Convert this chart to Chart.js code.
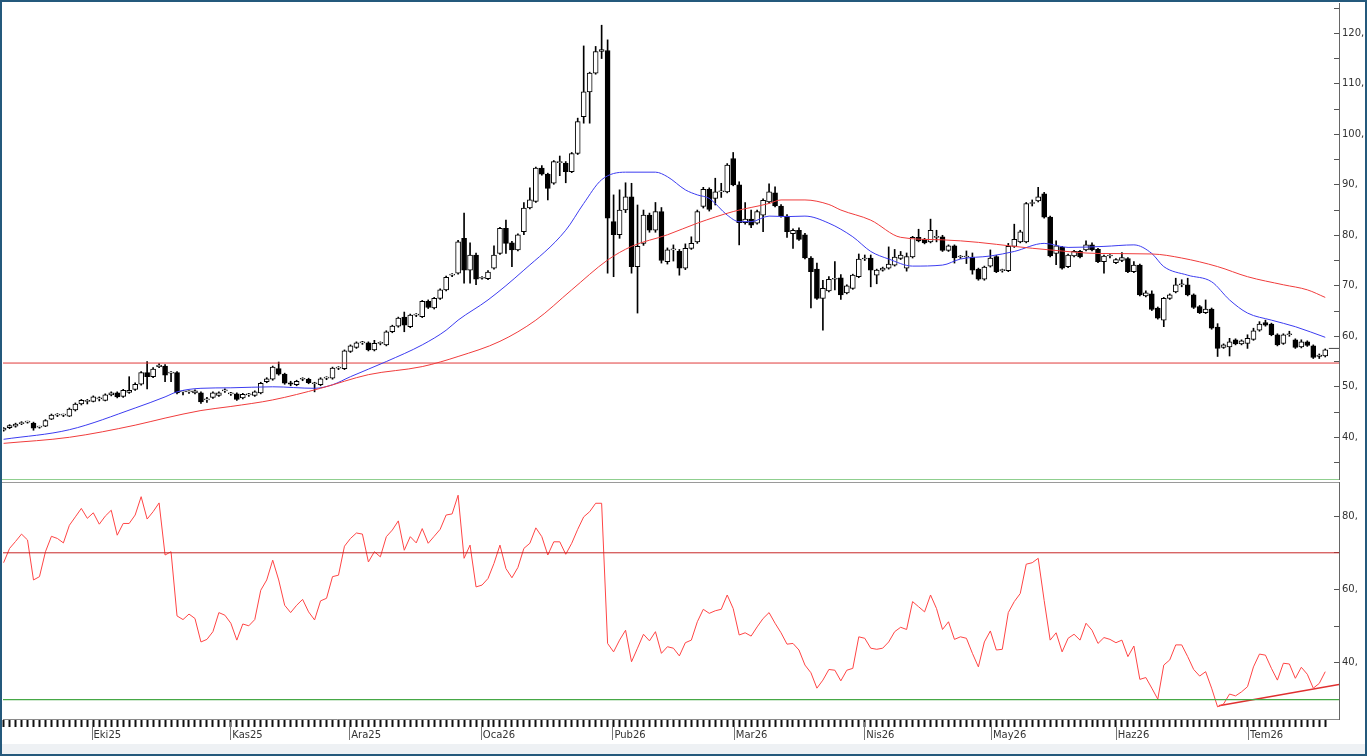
<!DOCTYPE html>
<html>
<head>
<meta charset="utf-8">
<script src="https://cdn.jsdelivr.net/npm/chart.js@4.4.1/dist/chart.umd.min.js"></script>
<style>
  html, body { margin: 0; padding: 0; background: #fff; }
  #frame { position: relative; width: 1367px; height: 756px; overflow: hidden; background: #fff; }
  #priceBox { position: absolute; left: 0; top: 0; width: 1367px; height: 481px; }
  #rsiBox { position: absolute; left: 0; top: 480px; width: 1367px; height: 276px; }
  .sep { position: absolute; left: 2px; width: 1337px; }
  #footer { position: absolute; left: 0; top: 744px; width: 1367px; height: 12px; background: #eef1f4; }
  #border { position: absolute; left: 0; top: 0; width: 1363px; height: 752px; border: 2px solid #24597c; pointer-events: none; }
</style>
</head>
<body>
<div id="frame">
  <div id="footer"></div>
  <div id="priceBox"><canvas id="priceChart"></canvas></div>
  <div id="rsiBox"><canvas id="rsiChart"></canvas></div>
  <div class="sep" style="top:479px;height:1px;background:#8fcf8f;"></div>
  <div class="sep" style="top:482px;height:1px;background:#9a9a9a;"></div>
  <div id="border"></div>
</div>
<script>
"use strict";

// ------------------------------------
// Daily candles
// ------------------------------------

const opens = [
  41.4, 41.9, 42.2, 42.7, 43.0, 42.8, 42.0, 42.2, 43.6, 44.4,
  44.4, 44.2, 45.4, 46.6, 47.1, 47.1, 47.6, 47.3, 48.4, 48.8,
  48.1, 48.9, 49.5, 50.5, 52.8, 52.0, 54.0, 54.1, 52.7, 52.8,
  49.0, 49.0, 48.8, 48.8, 47.4, 47.9, 48.3, 49.2, 48.6, 48.6,
  47.8, 48.4, 48.3, 48.8, 51.0, 51.5, 53.6, 52.5, 50.8, 50.4,
  51.5, 51.5, 50.6, 50.4, 51.7, 51.7, 53.7, 53.6, 57.0, 57.8,
  58.7, 58.7, 57.3, 58.6, 58.3, 60.9, 62.0, 63.8, 61.9, 64.2,
  63.9, 66.9, 65.6, 67.5, 69.2, 72.1, 72.5, 79.4, 73.1, 76.1,
  71.5, 71.4, 73.5, 76.4, 81.4, 78.5, 77.1, 80.7, 85.4, 86.7,
  93.3, 92.1, 90.3, 94.4, 94.3, 92.6, 96.2, 103.5, 108.4, 112.1,
  116.4, 116.6, 82.7, 80.1, 85.0, 87.6, 73.8, 78.4, 84.0, 81.0,
  84.7, 74.8, 77.1, 76.8, 73.5, 77.4, 78.7, 85.7, 89.1, 87.3,
  88.6, 88.6, 95.2, 90.0, 82.5, 83.2, 82.4, 84.0, 86.6, 88.4,
  85.8, 83.8, 80.3, 81.0, 80.1, 75.5, 73.3, 67.5, 69.0, 71.3,
  71.6, 68.6, 69.5, 71.8, 75.3, 75.5, 72.1, 73.1, 73.5, 74.1,
  75.4, 73.5, 75.7, 79.6, 79.2, 78.7, 79.6, 79.7, 77.0, 77.9,
  75.7, 75.7, 75.7, 73.3, 71.3, 73.9, 75.8, 73.0, 73.0, 77.8,
  78.7, 78.7, 86.3, 86.8, 88.2, 83.6, 76.4, 77.6, 73.8, 75.9,
  76.8, 77.1, 78.1, 77.2, 74.8, 75.9, 74.6, 75.0, 75.4, 72.8,
  74.1, 68.0, 68.4, 65.6, 63.2, 67.5, 68.8, 70.2, 70.2, 68.2,
  65.9, 64.7, 65.4, 61.8, 57.8, 57.9, 59.3, 58.5, 58.6, 59.4,
  61.2, 62.7, 62.4, 60.3, 58.6, 60.3, 59.3, 57.9, 58.9, 58.1,
  56.0, 56.1
];

const highs = [
  41.9, 42.5, 42.8, 43.1, 43.2, 43.0, 42.2, 43.5, 44.6, 44.7,
  44.6, 45.8, 46.8, 47.5, 47.5, 48.2, 48.0, 48.6, 49.0, 49.0,
  49.5, 52.0, 50.8, 53.0, 55.0, 53.8, 54.6, 54.4, 53.0, 53.0,
  49.3, 49.2, 49.4, 49.0, 47.9, 49.0, 49.0, 49.6, 48.9, 48.8,
  48.7, 48.7, 49.2, 50.9, 51.8, 54.1, 54.9, 52.7, 51.1, 51.3,
  51.8, 51.7, 50.9, 51.8, 52.0, 53.9, 54.0, 57.3, 58.3, 58.9,
  59.0, 58.9, 59.2, 58.9, 61.1, 62.2, 63.8, 64.8, 64.4, 64.5,
  67.1, 67.2, 67.7, 69.4, 71.9, 72.4, 79.0, 84.4, 78.5, 76.5,
  71.8, 73.0, 77.9, 81.6, 83.0, 78.8, 80.3, 86.5, 89.4, 93.5,
  93.8, 92.3, 94.8, 95.7, 94.6, 96.4, 103.2, 117.5, 112.3, 117.4,
  121.6, 118.7, 88.0, 89.0, 90.4, 90.3, 86.0, 85.0, 84.4, 86.5,
  85.5, 77.5, 78.1, 77.2, 78.3, 79.7, 85.0, 89.5, 89.4, 91.3,
  90.3, 94.2, 96.4, 90.6, 86.5, 85.0, 85.0, 87.2, 90.2, 89.6,
  86.1, 84.1, 81.3, 81.5, 80.4, 75.8, 74.5, 71.1, 71.8, 74.8,
  72.2, 70.2, 72.3, 76.3, 76.1, 76.1, 73.3, 73.7, 77.7, 77.2,
  76.8, 76.5, 79.8, 81.2, 79.4, 83.2, 81.0, 80.0, 78.1, 78.1,
  76.0, 76.9, 76.5, 73.5, 73.9, 77.1, 76.0, 73.3, 78.4, 82.2,
  81.0, 86.5, 87.0, 89.5, 88.5, 83.8, 78.9, 77.8, 76.3, 77.0,
  77.0, 78.9, 78.5, 77.4, 76.1, 76.2, 75.4, 76.6, 75.6, 74.8,
  74.3, 69.0, 69.0, 65.8, 67.7, 68.4, 71.5, 71.2, 71.5, 68.4,
  66.1, 67.2, 65.6, 62.5, 58.5, 59.6, 59.5, 59.3, 60.3, 61.6,
  62.9, 63.2, 62.6, 60.5, 60.5, 61.0, 59.5, 59.3, 59.1, 58.3,
  56.5, 57.5
];

const lows = [
  41.2, 41.7, 42.0, 42.5, 42.8, 41.4, 41.8, 42.1, 43.5, 44.1,
  44.1, 44.1, 45.2, 46.4, 46.6, 47.0, 47.2, 47.2, 48.2, 47.8,
  47.9, 48.7, 49.3, 50.3, 49.6, 51.8, 53.8, 51.0, 51.0, 48.6,
  48.4, 48.7, 48.6, 46.7, 46.9, 47.7, 48.1, 48.9, 48.3, 47.3,
  47.6, 48.1, 48.1, 48.6, 50.8, 51.3, 52.3, 50.5, 50.2, 50.2,
  51.2, 50.6, 49.0, 50.2, 51.4, 51.5, 53.4, 53.4, 56.8, 57.6,
  58.4, 57.1, 57.1, 58.3, 58.1, 60.7, 61.8, 60.9, 61.7, 63.9,
  63.7, 65.5, 65.4, 67.3, 69.0, 71.8, 72.3, 70.5, 70.5, 70.2,
  71.3, 71.2, 73.3, 76.2, 76.4, 73.8, 76.9, 80.1, 85.2, 86.5,
  91.9, 87.0, 90.1, 91.8, 90.4, 92.4, 96.0, 102.2, 102.2, 111.9,
  115.0, 72.5, 71.8, 79.4, 84.5, 72.5, 64.6, 78.0, 80.6, 80.6,
  74.5, 74.3, 74.9, 72.1, 73.2, 77.2, 78.4, 85.4, 84.8, 86.0,
  87.5, 88.4, 89.8, 78.1, 82.2, 81.5, 82.2, 80.7, 86.4, 85.6,
  83.6, 79.6, 77.4, 79.0, 75.3, 65.6, 67.3, 61.2, 68.8, 69.2,
  67.3, 68.4, 69.3, 71.6, 75.0, 69.8, 70.4, 72.9, 73.3, 73.9,
  75.2, 72.9, 75.5, 78.7, 78.3, 78.5, 78.7, 76.8, 76.8, 74.5,
  75.4, 74.4, 72.3, 71.1, 71.1, 73.7, 72.6, 72.7, 72.8, 77.6,
  78.5, 78.5, 85.8, 86.6, 83.4, 75.7, 74.2, 73.3, 73.6, 75.7,
  75.5, 76.9, 76.9, 74.6, 72.5, 75.5, 74.4, 74.8, 72.6, 72.6,
  68.0, 67.8, 65.1, 63.4, 61.9, 67.3, 68.6, 69.8, 68.0, 65.5,
  64.5, 64.5, 61.4, 56.0, 57.6, 56.1, 58.3, 58.3, 57.6, 59.2,
  61.0, 62.0, 60.1, 58.1, 58.4, 60.0, 57.6, 57.7, 58.0, 55.6,
  55.6, 55.9
];

const closes = [
  41.8, 42.3, 42.6, 42.9, 43.0, 41.8, 42.0, 43.3, 44.4, 44.4,
  44.4, 45.6, 46.6, 47.3, 47.1, 48.0, 47.6, 48.4, 48.8, 48.0,
  49.3, 49.3, 50.5, 52.8, 52.0, 53.5, 54.3, 52.3, 52.7, 48.8,
  49.0, 49.0, 49.2, 47.0, 47.4, 48.8, 48.8, 49.2, 48.6, 47.5,
  48.5, 48.4, 49.0, 50.7, 51.6, 53.9, 52.5, 50.7, 50.5, 51.1,
  51.5, 50.8, 50.6, 51.6, 51.7, 53.7, 53.7, 57.1, 58.1, 58.7,
  58.7, 57.3, 58.6, 58.6, 60.9, 62.0, 63.6, 62.2, 64.2, 64.2,
  66.9, 65.7, 67.5, 69.2, 71.7, 72.1, 78.7, 73.1, 76.1, 71.3,
  71.6, 72.7, 76.1, 81.4, 78.4, 77.1, 80.1, 85.4, 87.0, 93.3,
  92.1, 89.3, 94.6, 94.4, 92.6, 96.2, 102.5, 108.4, 112.1, 116.4,
  116.8, 83.4, 80.1, 85.0, 87.6, 73.8, 77.8, 84.0, 81.0, 84.7,
  75.0, 77.1, 77.1, 73.5, 77.4, 78.4, 84.7, 89.1, 85.1, 88.6,
  88.6, 93.9, 90.0, 82.5, 83.2, 82.0, 84.7, 86.9, 88.6, 85.8,
  83.8, 80.7, 81.0, 79.2, 75.5, 72.8, 67.5, 69.5, 71.3, 71.3,
  68.2, 70.0, 72.1, 75.3, 75.3, 73.1, 73.1, 73.5, 74.3, 75.7,
  76.1, 75.8, 79.6, 78.9, 78.5, 81.0, 79.6, 77.0, 77.9, 75.5,
  75.7, 75.7, 73.1, 71.3, 73.7, 75.5, 72.8, 73.0, 77.8, 79.2,
  80.7, 86.3, 86.3, 87.6, 83.6, 75.9, 77.9, 73.5, 76.1, 76.8,
  75.7, 78.1, 77.1, 74.8, 75.9, 75.9, 75.2, 75.6, 72.8, 74.1,
  68.2, 68.6, 65.3, 63.6, 67.5, 68.2, 70.2, 70.2, 68.2, 65.7,
  64.7, 65.4, 61.6, 57.6, 58.3, 58.9, 58.5, 59.1, 59.6, 61.1,
  62.4, 62.2, 60.3, 58.3, 60.3, 60.3, 57.8, 58.9, 58.2, 55.8,
  56.3, 57.3
];

// Moving averages, sampled along the drawn curves (candle index, value)
const maFastIdx = [0, 11, 22, 27, 29, 33, 38, 45, 52, 55, 58, 64, 70, 74, 76, 81, 87, 94, 97, 100,
  104, 109, 111, 114, 116, 118, 121, 123, 125, 128, 131, 134, 138, 142, 145, 148, 152, 157, 160,
  165, 169, 174, 178, 184, 189, 192, 194, 198, 202, 205, 208, 212, 216, 221];
const maFastVal = [39.6, 41.5, 45.8, 48.0, 49.0, 49.7, 49.8, 50.0, 49.7, 50.4, 52.0, 55.0, 58.3, 61.2,
  63.2, 67.2, 73.1, 81.0, 86.3, 91.0, 92.5, 92.5, 91.6, 89.0, 88.0, 87.3, 84.0, 82.7, 82.7, 83.8,
  83.7, 83.8, 82.4, 79.7, 76.8, 75.3, 73.9, 74.1, 75.3, 75.9, 76.8, 78.4, 77.6, 77.8, 78.1, 76.4,
  73.8, 72.1, 70.8, 67.2, 64.6, 63.2, 61.9, 59.8];

const maSlowIdx = [0, 11, 22, 27, 33, 38, 45, 53, 61, 70, 76, 83, 89, 95, 101, 105, 111, 116, 122,
  128, 130, 134, 138, 140, 145, 150, 157, 163, 169, 175, 183, 192, 197, 203, 208, 214, 218, 221];
const maSlowVal = [38.8, 40.0, 42.4, 43.8, 45.3, 46.1, 47.4, 49.7, 52.4, 54.0, 56.0, 59.0, 63.2, 69.2,
  75.1, 77.8, 80.1, 82.4, 84.7, 86.3, 87.0, 87.0, 86.1, 85.0, 83.0, 79.6, 79.1, 78.6, 77.8, 77.1,
  76.4, 76.3, 75.5, 73.8, 71.8, 70.2, 69.2, 67.7];

const supportLevel = 54.7;
const lastMark = 57.6;

// RSI, one value per candle
const rsiValues = [
  67.3, 71.2, 73.1, 75.1, 73.5, 62.6, 63.5, 70.3, 74.5, 73.9,
  72.7, 77.5, 79.8, 82.1, 79.4, 80.9, 77.8, 80.0, 81.6, 74.8,
  78.0, 78.0, 80.3, 85.3, 79.2, 81.2, 83.6, 69.4, 70.3, 52.8,
  51.8, 53.3, 52.1, 45.7, 46.4, 48.5, 53.7, 53.0, 50.8, 46.2,
  50.6, 50.1, 51.8, 59.8, 62.6, 68.0, 62.6, 55.7, 53.7, 55.7,
  57.3, 53.9, 51.7, 56.9, 57.6, 63.5, 63.9, 71.8, 73.9, 75.4,
  75.1, 67.5, 70.3, 68.9, 74.4, 76.2, 78.7, 70.7, 74.4, 72.7,
  76.6, 72.6, 74.5, 76.4, 80.3, 80.6, 85.7, 68.5, 72.1, 60.7,
  61.2, 63.0, 67.1, 72.1, 65.7, 63.2, 66.0, 71.2, 72.6, 76.8,
  74.4, 69.4, 73.0, 73.0, 69.6, 72.6, 76.4, 79.8, 81.2, 83.5,
  83.5, 45.3, 43.0, 46.2, 48.9, 40.3, 44.0, 47.8, 46.0, 48.5,
  42.6, 44.4, 44.0, 41.9, 45.5, 46.2, 51.2, 54.6, 53.5, 54.2,
  54.6, 58.5, 54.8, 47.6, 48.2, 47.3, 49.8, 52.1, 53.7, 50.8,
  48.2, 45.1, 45.3, 43.5, 39.4, 37.3, 33.1, 35.3, 38.2, 38.0,
  35.1, 38.0, 38.5, 47.1, 46.7, 44.0, 43.7, 44.0, 45.7, 48.5,
  49.7, 49.1, 56.7, 55.3, 53.9, 58.5, 54.8, 49.1, 51.2, 46.4,
  47.1, 46.7, 42.6, 38.9, 45.7, 48.7, 43.5, 43.7, 53.7, 56.7,
  58.9, 66.9, 67.3, 68.5, 57.0, 46.2, 48.2, 43.0, 46.7, 47.8,
  46.2, 50.8, 48.9, 45.3, 46.9, 46.4, 45.5, 46.2, 41.7, 44.6,
  35.5, 36.0, 33.1, 30.1, 39.4, 40.8, 44.9, 44.9, 41.7, 38.2,
  36.4, 37.6, 33.1, 28.0, 28.8, 31.5, 31.0, 32.1, 33.5, 38.9,
  42.4, 42.1, 38.5, 35.3, 39.9, 39.7, 35.8, 38.8, 36.9, 33.1,
  34.4, 37.6
];
const rsiUpper = 70;
const rsiLower = 30;
const rsiTrendIdx = [203.2, 223.3];
const rsiTrendVal = [28.3, 34.1];

// Axes
const monthLabels = ["Eki25", "Kas25", "Ara25", "Oca26", "Pub26", "Mar26", "Nis26", "May26", "Haz26", "Tem26"];
const monthPos = [14.7, 37.9, 57.8, 79.8, 101.8, 122.1, 143.9, 165.1, 185.95, 208.1];
const priceTicks = [35, 40, 45, 50, 55, 60, 65, 70, 75, 80, 85, 90, 95, 100, 105, 110, 115, 120, 125];
const rsiTicks = [30, 40, 50, 60, 70, 80];

const xMin = -0.1;
const xMax = 223.3;
const priceMin = 31.74;
const priceMax = 126.0;
const rsiMin = 24.7;
const rsiMax = 89.3;

Chart.defaults.font.family = "'DejaVu Sans', Verdana, sans-serif";
Chart.defaults.font.size = 10;
Chart.defaults.color = "#333";

const candleIdx = closes.map((c, i) => i);
const AXIS_W = 28;

const pairs = (xs, ys) => xs.map((x, k) => ({ x: x, y: ys[k] }));

// Keep the plot areas exactly where the picture has them:
// no extra room for the first and last tick labels.
function fitVertical(s) {
    s.width = AXIS_W;
    s.paddingTop = 0;
    s.paddingBottom = 0;
}

// ------------------------------------
// Price panel
// ------------------------------------

new Chart(document.getElementById("priceChart"), {
  type: "bar",
  data: {
    datasets: [
      {
        label: "Wick",
        data: candleIdx.map(i => ({ x: i, y: [lows[i], highs[i]] })),
        backgroundColor: "#000",
        barThickness: 1,
        grouped: false,
        order: 3
      },
      {
        label: "Body",
        data: candleIdx.map(i => ({ x: i, y: [opens[i], closes[i]] })),
        backgroundColor: ctx => closes[ctx.dataIndex] >= opens[ctx.dataIndex] ? "#fff" : "#000",
        borderColor: "#000",
        borderWidth: 1,
        borderSkipped: false,
        barThickness: 5,
        minBarLength: 1,
        grouped: false,
        order: 2
      },
      {
        type: "line",
        label: "Support",
        data: pairs([xMin, xMax], [supportLevel, supportLevel]),
        borderColor: "#e03a3a",
        borderWidth: 1,
        pointRadius: 0,
        order: 1
      },
      {
        type: "line",
        label: "MA slow",
        data: pairs(maSlowIdx, maSlowVal),
        borderColor: "#f03c3c",
        borderWidth: 1,
        pointRadius: 0,
        cubicInterpolationMode: "monotone",
        order: 0
      },
      {
        type: "line",
        label: "MA fast",
        data: pairs(maFastIdx, maFastVal),
        borderColor: "#3c3cf0",
        borderWidth: 1,
        pointRadius: 0,
        cubicInterpolationMode: "monotone",
        order: 0
      },
      {
        type: "line",
        label: "Last",
        data: pairs([221.6, xMax], [lastMark, lastMark]),
        borderColor: "#444",
        borderWidth: 1,
        pointRadius: 0,
        order: 0
      }
    ]
  },
  options: {
    responsive: true,
    maintainAspectRatio: false,
    animation: false,
    layout: { padding: { left: 3, top: 3, right: 0, bottom: 2 } },
    plugins: { legend: { display: false }, tooltip: { enabled: false } },
    scales: {
      x: { type: "linear", min: xMin, max: xMax, offset: false, display: false },
      y: {
        position: "right",
        min: priceMin,
        max: priceMax,
        afterBuildTicks: s => { s.ticks = priceTicks.map(v => ({ value: v })); },
        afterFit: fitVertical,
        grid: { drawOnChartArea: false, tickLength: -5, tickColor: "#555" },
        border: { color: "#666" },
        ticks: { padding: 8, callback: v => (v % 10 === 0 ? v + "," : "") }
      }
    }
  }
});

// ------------------------------------
// RSI panel with the date axis
// ------------------------------------

const monthLines = {
  id: "monthLines",
  afterDraw(chart) {
    const xs = chart.scales.x;
    const c = chart.ctx;
    c.save();
    c.strokeStyle = "#777";
    c.lineWidth = 1;
    monthPos.forEach(v => {
      const px = Math.round(xs.getPixelForValue(v)) + 0.5;
      c.beginPath();
      c.moveTo(px, xs.top + 3);
      c.lineTo(px, xs.top + 21);
      c.stroke();
    });
    c.restore();
  }
};

new Chart(document.getElementById("rsiChart"), {
  type: "line",
  data: {
    datasets: [
      {
        label: "Upper",
        data: pairs([xMin, xMax], [rsiUpper, rsiUpper]),
        borderColor: "#c82828",
        borderWidth: 1,
        pointRadius: 0
      },
      {
        label: "Lower",
        data: pairs([xMin, xMax], [rsiLower, rsiLower]),
        borderColor: "#46a846",
        borderWidth: 1.3,
        pointRadius: 0
      },
      {
        label: "RSI",
        data: candleIdx.map(i => ({ x: i, y: rsiValues[i] })),
        borderColor: "#ff4545",
        borderWidth: 1,
        pointRadius: 0
      },
      {
        label: "Trend",
        data: pairs(rsiTrendIdx, rsiTrendVal),
        borderColor: "#e03030",
        borderWidth: 1.5,
        pointRadius: 0
      }
    ]
  },
  options: {
    responsive: true,
    maintainAspectRatio: false,
    animation: false,
    layout: { padding: { left: 3, top: 2, right: 0, bottom: 11 } },
    plugins: { legend: { display: false }, tooltip: { enabled: false } },
    scales: {
      x: {
        type: "linear",
        min: xMin,
        max: xMax,
        offset: false,
        afterBuildTicks: s => {
          s.ticks = candleIdx.concat(monthPos).sort((a, b) => a - b).map(v => ({ value: v }));
        },
        afterFit: s => {
          s.height = 26;
          s.paddingLeft = 0;
          s.paddingRight = 0;
        },
        grid: {
          drawOnChartArea: false,
          tickLength: 8,
          tickWidth: 2,
          tickColor: ctx => (ctx.tick && monthPos.includes(ctx.tick.value) ? "rgba(0,0,0,0)" : "#111")
        },
        border: { color: "#8a8a8a" },
        ticks: {
          autoSkip: false,
          maxRotation: 0,
          align: "start",
          labelOffset: 2,
          padding: 2,
          callback: v => {
            const k = monthPos.indexOf(v);
            return k >= 0 ? monthLabels[k] : "";
          }
        }
      },
      y: {
        position: "right",
        min: rsiMin,
        max: rsiMax,
        afterBuildTicks: s => { s.ticks = rsiTicks.map(v => ({ value: v })); },
        afterFit: fitVertical,
        grid: { drawOnChartArea: false, tickLength: -5, tickColor: "#555" },
        border: { color: "#666" },
        ticks: { padding: 8, callback: v => (v % 20 === 0 ? v + "," : "") }
      }
    }
  },
  plugins: [monthLines]
});
</script>
</body>
</html>
